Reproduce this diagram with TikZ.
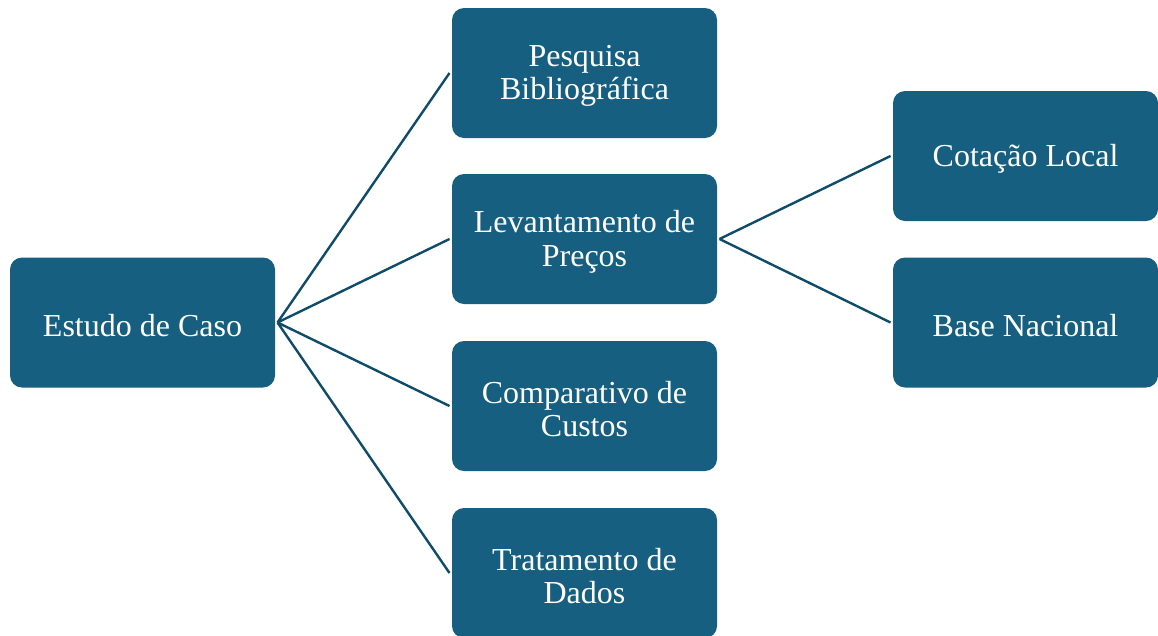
\documentclass[tikz,border=0pt]{standalone}
\usepackage{fontspec}
\setmainfont{Liberation Serif}
\definecolor{boxfill}{HTML}{175F80}
\definecolor{linecol}{HTML}{0F4C69}
\begin{document}
\begin{tikzpicture}[x=1pt,y=-1pt,
  box/.style={draw=none,fill=boxfill,rounded corners=12pt,minimum width=265pt,minimum height=130pt,
    inner sep=0pt,outer sep=2.5pt,
    label={[text=white,align=center,font=\fontsize{32}{33.5}\selectfont,inner sep=0pt,yshift=-3pt]center:#1}},
  link/.style={draw=linecol,line width=2.4pt}]
\useasboundingbox (0,0) rectangle (1158,635);
\node[box={Estudo de Caso}] (estudo) at (142.5,322.5) {};
\node[box={Pesquisa\\Bibliográfica}] (pesquisa) at (584.5,73) {};
\node[box={Levantamento de\\Preços}] (levant) at (584.5,239) {};
\node[box={Comparativo de\\Custos}] (compar) at (584.5,406) {};
\node[box={Tratamento de\\Dados}] (trat) at (584.5,573) {};
\node[box={Cotação Local}] (cotacao) at (1025.5,156) {};
\node[box={Base Nacional}] (base) at (1025.5,322.5) {};
\draw[link] (estudo.east) -- (pesquisa.west);
\draw[link] (estudo.east) -- (levant.west);
\draw[link] (estudo.east) -- (compar.west);
\draw[link] (estudo.east) -- (trat.west);
\draw[link] (levant.east) -- (cotacao.west);
\draw[link] (levant.east) -- (base.west);
\end{tikzpicture}
\end{document}
